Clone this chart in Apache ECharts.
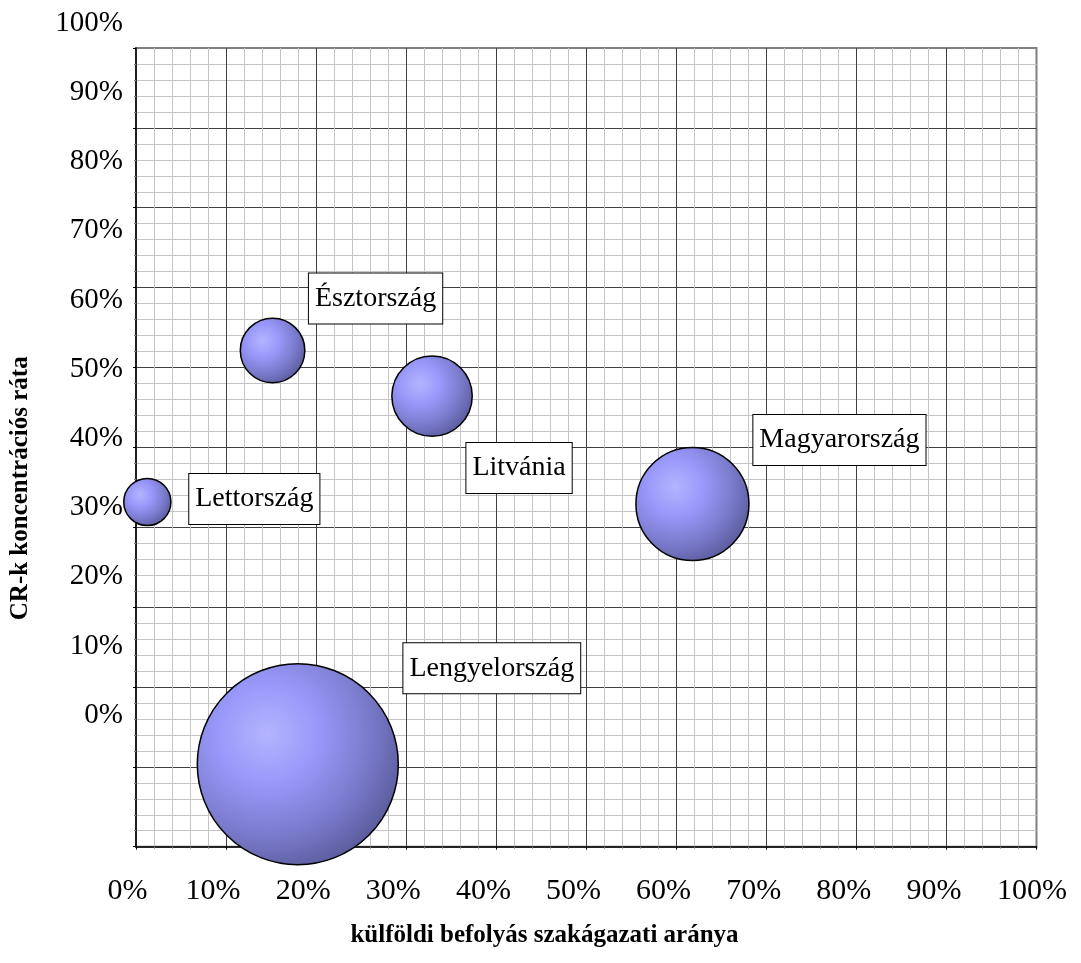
<!DOCTYPE html>
<html>
<head>
<meta charset="utf-8">
<script src="https://cdn.jsdelivr.net/npm/echarts@6/dist/echarts.min.js"></script>
<style>
  html, body { margin: 0; padding: 0; background: #ffffff; }
  #chart { width: 1081px; height: 963px; }
</style>
</head>
<body>
<div id="chart"></div>
<script>
// ---- data ----
const countries    = ['Lettország', 'Észtország', 'Litvánia', 'Magyarország', 'Lengyelország'];
const foreignShare = [2.7, 16.6, 34.3, 63.2, 19.4];     // x, %
const crRate       = [30.8, 52.7, 46.1, 30.5, -7.1];    // y, %
const bubbleSize   = [5.5, 10.3, 16.0, 31.6, 100];      // relative bubble size (area)
const xTickLabels  = ['0%','10%','20%','30%','40%','50%','60%','70%','80%','90%','100%'];
const yTickLabels  = ['0%','10%','20%','30%','40%','50%','60%','70%','80%','90%','100%'];
const xTitle = 'külföldi befolyás szakágazati aránya';
const yTitle = 'CR-k koncentrációs ráta';

// ---- presentation ----
const FONT = "'Liberation Serif', 'Times New Roman', serif";
const MAX_DIAMETER = 201;
const maxSize = Math.max.apply(null, bubbleSize);
const labelOffsets = {
  'Lettország':    [107, -3],
  'Észtország':    [103, -52],
  'Litvánia':      [87, 72],
  'Magyarország':  [147, -64],
  'Lengyelország': [194, -96]
};

const bubbleFill = {
  type: 'radial', x: 0.35, y: 0.35, r: 0.72,
  colorStops: [
    { offset: 0,    color: '#b4b4ff' },
    { offset: 0.35, color: '#9898fa' },
    { offset: 0.7,  color: '#7a7acc' },
    { offset: 1,    color: '#5a5a9a' }
  ]
};

const seriesData = countries.map((name, i) => ({
  name: name,
  value: [foreignShare[i], crRate[i], bubbleSize[i]],
  label: { offset: labelOffsets[name] }
}));

const tickFont = { fontFamily: FONT, fontSize: 30, color: '#000' };

const chart = echarts.init(document.getElementById('chart'), null, { renderer: 'canvas' });
chart.setOption({
  animation: false,
  backgroundColor: '#ffffff',
  grid: [
    // plot frame with the graph-paper grid
    { left: 136, right: 44.5, top: 48, bottom: 116.3, show: true,
      backgroundColor: '#ffffff', borderColor: '#808080', borderWidth: 2 },
    // value / label coordinate system
    { left: 120.7, right: 57, top: 23.1, bottom: 109.5 }
  ],
  xAxis: [
    { gridIndex: 0, type: 'value', min: 0, max: 100, interval: 10,
      axisLine: { show: true, lineStyle: { color: '#000', width: 1.5 } },
      axisTick: { show: true, length: 3, lineStyle: { color: '#000' } },
      minorTick: { show: true, splitNumber: 5, length: 2, lineStyle: { color: '#808080' } },
      axisLabel: { show: false },
      splitLine: { show: true, showMaxLine: false, showMinLine: false, lineStyle: { color: '#404040', width: 1 } },
      minorSplitLine: { show: true, lineStyle: { color: '#c4c4c4', width: 1 } } },
    { gridIndex: 1, type: 'value', min: 0, max: 100, interval: 10,
      axisLine: { show: false }, axisTick: { show: false }, splitLine: { show: false },
      axisLabel: { show: true, margin: 23, color: '#000', fontFamily: FONT, fontSize: 30,
        formatter: v => {
          const t = xTickLabels[Math.round(v / 10)] || '';
          if (v === 0) return '{first|' + t + '}';
          if (v === 100) return '{last|' + t + '}';
          return t;
        },
        rich: {
          first: Object.assign({ padding: [0, 0, 0, 9] }, tickFont),
          last: Object.assign({ padding: [0, 0, 0, 16] }, tickFont)
        } },
      name: xTitle, nameLocation: 'middle', nameGap: 70,
      nameTextStyle: { fontFamily: FONT, fontSize: 25, fontWeight: 'bold', color: '#000',
        padding: [0, 58, 0, 0] } }
  ],
  yAxis: [
    { gridIndex: 0, type: 'value', min: 0, max: 100, interval: 10,
      axisLine: { show: true, lineStyle: { color: '#000', width: 1.5 } },
      axisTick: { show: true, length: 3, lineStyle: { color: '#000' } },
      minorTick: { show: true, splitNumber: 5, length: 2, lineStyle: { color: '#808080' } },
      axisLabel: { show: false },
      splitLine: { show: true, showMaxLine: false, showMinLine: false, lineStyle: { color: '#404040', width: 1 } },
      minorSplitLine: { show: true, lineStyle: { color: '#c4c4c4', width: 1 } } },
    { gridIndex: 1, type: 'value', min: -20, max: 100, interval: 10,
      axisLine: { show: false }, axisTick: { show: false }, splitLine: { show: false },
      axisLabel: { show: true, margin: 0, color: '#000', fontFamily: FONT, fontSize: 29,
        formatter: v => (v < 0 ? '' : (yTickLabels[Math.round(v / 10)] || '')) },
      name: yTitle, nameLocation: 'middle', nameRotate: 90, nameGap: 90,
      nameTextStyle: { fontFamily: FONT, fontSize: 25, fontWeight: 'bold', color: '#000',
        padding: [0, 100, 0, 0] } }
  ],
  series: [{
    type: 'scatter',
    xAxisIndex: 1, yAxisIndex: 1,
    clip: false,
    data: seriesData,
    symbol: 'circle',
    symbolSize: v => MAX_DIAMETER * Math.sqrt(v[2] / maxSize),
    itemStyle: { color: bubbleFill, borderColor: '#000', borderWidth: 1.5, opacity: 1 },
    label: {
      show: true, position: 'inside', formatter: p => p.name,
      fontFamily: FONT, fontSize: 28, color: '#000', lineHeight: 32,
      backgroundColor: '#ffffff', borderColor: '#000', borderWidth: 1,
      padding: [9, 6, 9, 6]
    },
    emphasis: { disabled: true }
  }]
});
</script>
</body>
</html>
